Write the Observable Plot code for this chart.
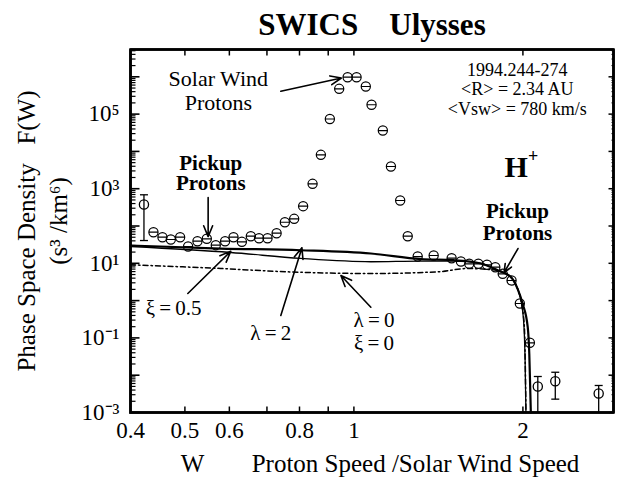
<!DOCTYPE html>
<html><head><meta charset="utf-8">
<script src="https://cdn.jsdelivr.net/npm/d3@7"></script>
<script src="https://cdn.jsdelivr.net/npm/@observablehq/plot@0.6"></script>
<style>body{margin:0;background:#fff;} svg{display:block}</style>
</head><body><div id="chart"></div>
<script>
// ---- data ----
const ptsW = [0.4395,0.456,0.4719,0.4903,0.5066,0.5264,0.547,0.5675,0.5896,0.6103,0.6316,0.6552,0.6777,0.7017,0.7283,0.7534,0.7827,0.812,0.8441,0.8733,0.9061,0.9414,0.9745,1.011,1.05,1.075,1.126,1.164,1.209,1.247,1.299,1.387,1.493,1.551,1.605,1.666,1.726,1.786,1.841,1.909,1.975,2.058];
const ptsF = [68.2,50.1,43.5,50.1,28.2,39.1,45.4,30.6,39.1,50.1,37.7,53.3,47.1,47.1,64.1,126,156,340,1353,8110,7.39e4,4.77e5,9.76e5,9.76e5,5.5e5,1.78e5,3.63e4,3940,483,53.3,15.2,16.2,13.7,11.2,9.7,9.7,9.12,7.86,5.23,3.46,0.836,0.074];

const errW  = [0.4227, 2.126, 2.284, 2.729];
const errF  = [377, 0.00498, 0.0069, 0.00323];
const errHi = [687, 0.00923, 0.0120, 0.0053];
const errLo = [40.8, 0.001, 0.00228, 0.001];

// model curves
const lam2W = [0.4,0.579,0.804,1.072,1.316,1.507,1.684,1.806,1.905,1.957,1.998,2.040,2.053,2.062,2.066];
const lam2F = [30.0,24.9,22.4,18.3,12.9,12.1,9.9,6.4,4.24,2.07,0.82,0.194,0.0375,0.00317,0.001];
const xi05W = [0.4,0.6035,0.804,1.072,1.316,1.507,1.684,1.806,1.905,1.957,1.985,2.009,2.018,2.025];
const xi05F = [28.2,19.5,13.5,11.0,11.4,11.4,9.9,6.4,4.24,2.07,1.0,0.194,0.0248,0.001];
const lam0W = [0.4,0.579,0.762,1.072,1.410,1.595,1.806,1.905,1.957,1.989,2.012,2.019,2.025];
const lam0F = [9.12,7.26,5.91,5.33,5.91,7.26,6.4,4.2,2.07,0.83,0.194,0.0248,0.001];

// axes
const xDomain = [0.4, 2.9];
const yDomain = [1e-3, 5.4e6];
const xLabelTicks = [0.4, 0.5, 0.6, 0.8, 1, 2];
const xTickMarks = [0.5, 0.6, 0.7, 0.8, 0.9, 1, 2];
const yLabelTicks = [1e-3, 1e-1, 1e1, 1e3, 1e5];
const yDecades = [1e-3, 1e-2, 1e-1, 1, 1e1, 1e2, 1e3, 1e4, 1e5, 1e6];

// annotations (anchor in data coordinates)
const arrows = [
  {x1: 0.741, y1: 4.11e5, x2: 0.950, y2: 9.3e5},   // solar wind protons
  {x1: 0.550, y1: 581,    x2: 0.550, y2: 52},      // pickup left
  {x1: 1.960, y1: 24.9,   x2: 1.851, y2: 5.6},     // pickup right
  {x1: 0.506, y1: 1.55,   x2: 0.6035, y2: 21},     // xi = 0.5
  {x1: 0.741, y1: 0.399,  x2: 0.808, y2: 26},      // lambda = 2
  {x1: 1.072, y1: 0.665,  x2: 0.948, y2: 4.71}     // lambda = 0
];

// ---- layout ----
const WIDTH = 617, HEIGHT = 478, ML = 130, MR = 4, MT = 49, MB = 66;
const pxPerDecX = (WIDTH - ML - MR) / Math.log10(xDomain[1] / xDomain[0]);
const pxPerDecY = (HEIGHT - MT - MB) / Math.log10(yDomain[1] / yDomain[0]);
const fx = px => Math.pow(10, px / pxPerDecX);   // multiplicative factor for a pixel length along x
const fy = px => Math.pow(10, px / pxPerDecY);   // along y

// ---- build ----
const sup = {"-":"\u207B","0":"\u2070","1":"\u00B9","2":"\u00B2","3":"\u00B3","4":"\u2074","5":"\u2075","6":"\u2076","7":"\u2077","8":"\u2078","9":"\u2079"};
const fmtPow = d => "10" + String(Math.round(Math.log10(d))).split("").map(c => sup[c]).join("");
const yMinor = [];
for (const dec of yDecades) for (let m = 2; m <= 9; m++) { const v = dec * m; if (v <= yDomain[1]) yMinor.push(v); }

const zipP = (a, b) => a.map((w, i) => ({w, f: b[i]}));
const pts = zipP(ptsW, ptsF);
const errs = errW.map((w, i) => ({w, f: errF[i], hi: errHi[i], lo: errLo[i]}));

// frame outline and inward ticks as path-based marks
const [x0, x1] = xDomain, [y0, y1] = yDomain;
const frameLine = [{w: x0, f: y0}, {w: x1, f: y0}, {w: x1, f: y1}, {w: x0, f: y1}, {w: x0, f: y0}];
const ticksBottom = xTickMarks.map(t => ({xa: t, xb: t, ya: y0, yb: y0 * fy(6)}));
const ticksTop = xTickMarks.map(t => ({xa: t, xb: t, ya: y1, yb: y1 / fy(6)}));
const ticksLeftMajor = yDecades.map(t => ({xa: x0, xb: x0 * fx(9), ya: t, yb: t}));
const ticksLeftMinor = yMinor.map(t => ({xa: x0, xb: x0 * fx(5), ya: t, yb: t}));
const ticksRightMajor = yDecades.map(t => ({xa: x1, xb: x1 / fx(5), ya: t, yb: t}));
const ticksRightMinor = yMinor.map(t => ({xa: x1, xb: x1 / fx(2), ya: t, yb: t}));
const tickOpts = w => ({x1: "xa", x2: "xb", y1: "ya", y2: "yb", stroke: "black", strokeWidth: w});

const theta = {draw(ctx, size) { const r = Math.sqrt(size / Math.PI); ctx.moveTo(r, 0); ctx.arc(0, 0, r, 0, 2 * Math.PI); ctx.moveTo(-r, 0); ctx.lineTo(r, 0); }};
const hbar = {draw(ctx, size) { const r = Math.sqrt(size / Math.PI); ctx.moveTo(-r, 0); ctx.lineTo(r, 0); }};

const font = "'Liberation Serif', 'Times New Roman', serif";
const K = "black";

const chart = Plot.plot({
  width: WIDTH, height: HEIGHT,
  marginLeft: ML, marginRight: MR, marginTop: MT, marginBottom: MB,
  style: {fontFamily: font, background: "white", color: "black"},
  x: {type: "log", domain: xDomain},
  y: {type: "log", domain: yDomain},
  marks: [
    // tick labels
    Plot.axisX({anchor: "bottom", ticks: xLabelTicks, tickSize: 0, tickPadding: 9, tickFormat: d => String(d), fontSize: 23, label: null}),
    Plot.axisY({anchor: "left", ticks: yLabelTicks, tickSize: 0, tickPadding: 11, tickFormat: fmtPow, fontSize: 23, label: null}),
    // inward ticks and frame
    Plot.link(ticksBottom, tickOpts(1.5)),
    Plot.link(ticksTop, tickOpts(1.5)),
    Plot.link(ticksLeftMajor, tickOpts(1.6)),
    Plot.link(ticksLeftMinor, tickOpts(1.2)),
    Plot.link(ticksRightMajor, tickOpts(1.5)),
    Plot.link(ticksRightMinor, tickOpts(1)),
    Plot.line(frameLine, {x: "w", y: "f", stroke: K, strokeWidth: 2.6, strokeLinejoin: "miter", strokeLinecap: "square"}),
    // model curves
    Plot.line(zipP(lam0W, lam0F), {x: "w", y: "f", curve: "monotone-x", stroke: K, strokeWidth: 1.5, strokeDasharray: "5,3,1.5,3"}),
    Plot.line(zipP(xi05W, xi05F), {x: "w", y: "f", curve: "monotone-x", stroke: K, strokeWidth: 1.3}),
    Plot.line(zipP(lam2W, lam2F), {x: "w", y: "f", curve: "monotone-x", stroke: K, strokeWidth: 2.2}),
    // data
    Plot.link(errs, {x1: "w", x2: "w", y1: "lo", y2: "hi", stroke: K, strokeWidth: 1.3}),
    Plot.dot(errs, {x: "w", y: "hi", symbol: hbar, r: 4, stroke: K, strokeWidth: 1.3}),
    Plot.dot(errs.filter(d => d.lo > yDomain[0]), {x: "w", y: "lo", symbol: hbar, r: 4, stroke: K, strokeWidth: 1.3}),
    Plot.dot(errs, {x: "w", y: "f", r: 4.6, stroke: K, strokeWidth: 1.3, fill: "none"}),
    Plot.dot(pts, {x: "w", y: "f", symbol: theta, r: 4.6, stroke: K, strokeWidth: 1.2, fill: "none"}),
    // arrows
    Plot.arrow(arrows, {x1: "x1", y1: "y1", x2: "x2", y2: "y2", stroke: K, strokeWidth: 1.6, headLength: 11, headAngle: 45}),
    // annotations
    Plot.text(["Solar Wind\nProtons"], {x: 0.5735, y: 4.3e5, fontSize: 22, lineHeight: 1.09, fill: K}),
    Plot.text(["1994.244-274\n<R> = 2.34 AU\n<Vsw> = 780 km/s"], {x: 1.955, y: 4.71e5, fontSize: 18, lineHeight: 1.08, fill: K}),
    Plot.text(["Pickup\nProtons"], {x: 0.556, y: 2560, fontSize: 21, fontWeight: "bold", lineHeight: 0.95, fill: K}),
    Plot.text(["H"], {x: 1.945, y: 3700, fontSize: 30, fontWeight: "bold", fill: K}),
    Plot.text(["+"], {x: 2.085, y: 7300, fontSize: 18, fontWeight: "bold", fill: K}),
    Plot.text(["Pickup\nProtons"], {x: 1.956, y: 132, fontSize: 21, fontWeight: "bold", lineHeight: 1.05, fill: K}),
    Plot.text(["\u03BE\u2009=\u20090.5"], {x: 0.4258, y: 0.614, fontSize: 21, textAnchor: "start", fill: K}),
    Plot.text(["\u03BB\u2009=\u20092"], {x: 0.711, y: 0.131, fontSize: 21, fill: K}),
    Plot.text(["\u03BB\u2009=\u20090\n\u03BE\u2009=\u20090"], {x: 1.086, y: 0.149, fontSize: 21, lineHeight: 1.05, fill: K}),
    // title and axis labels
    Plot.text(["SWICS\u2003Ulysses"], {frameAnchor: "top", lineAnchor: "middle", dy: -24, fontSize: 31, fontWeight: "bold", fill: K}),
    Plot.text(["W"], {frameAnchor: "bottom", lineAnchor: "middle", dx: -179.5, dy: 51, fontSize: 25, fill: K}),
    Plot.text(["Proton Speed /Solar Wind Speed"], {frameAnchor: "bottom", lineAnchor: "middle", dx: 43.5, dy: 51, fontSize: 25, fill: K}),
    Plot.text(["Phase Space Density\u2002 F(W)"], {frameAnchor: "left", textAnchor: "middle", lineAnchor: "middle", rotate: -90, dx: -104, fontSize: 25, fill: K}),
    Plot.text(["(s\u00B3 /km\u2076)"], {frameAnchor: "left", textAnchor: "middle", lineAnchor: "middle", rotate: -90, dx: -72, dy: -10, fontSize: 25, fill: K}),
    Plot.frame({stroke: K, strokeWidth: 2.5})
  ]
});
document.getElementById("chart").appendChild(chart);
</script>
</body></html>
